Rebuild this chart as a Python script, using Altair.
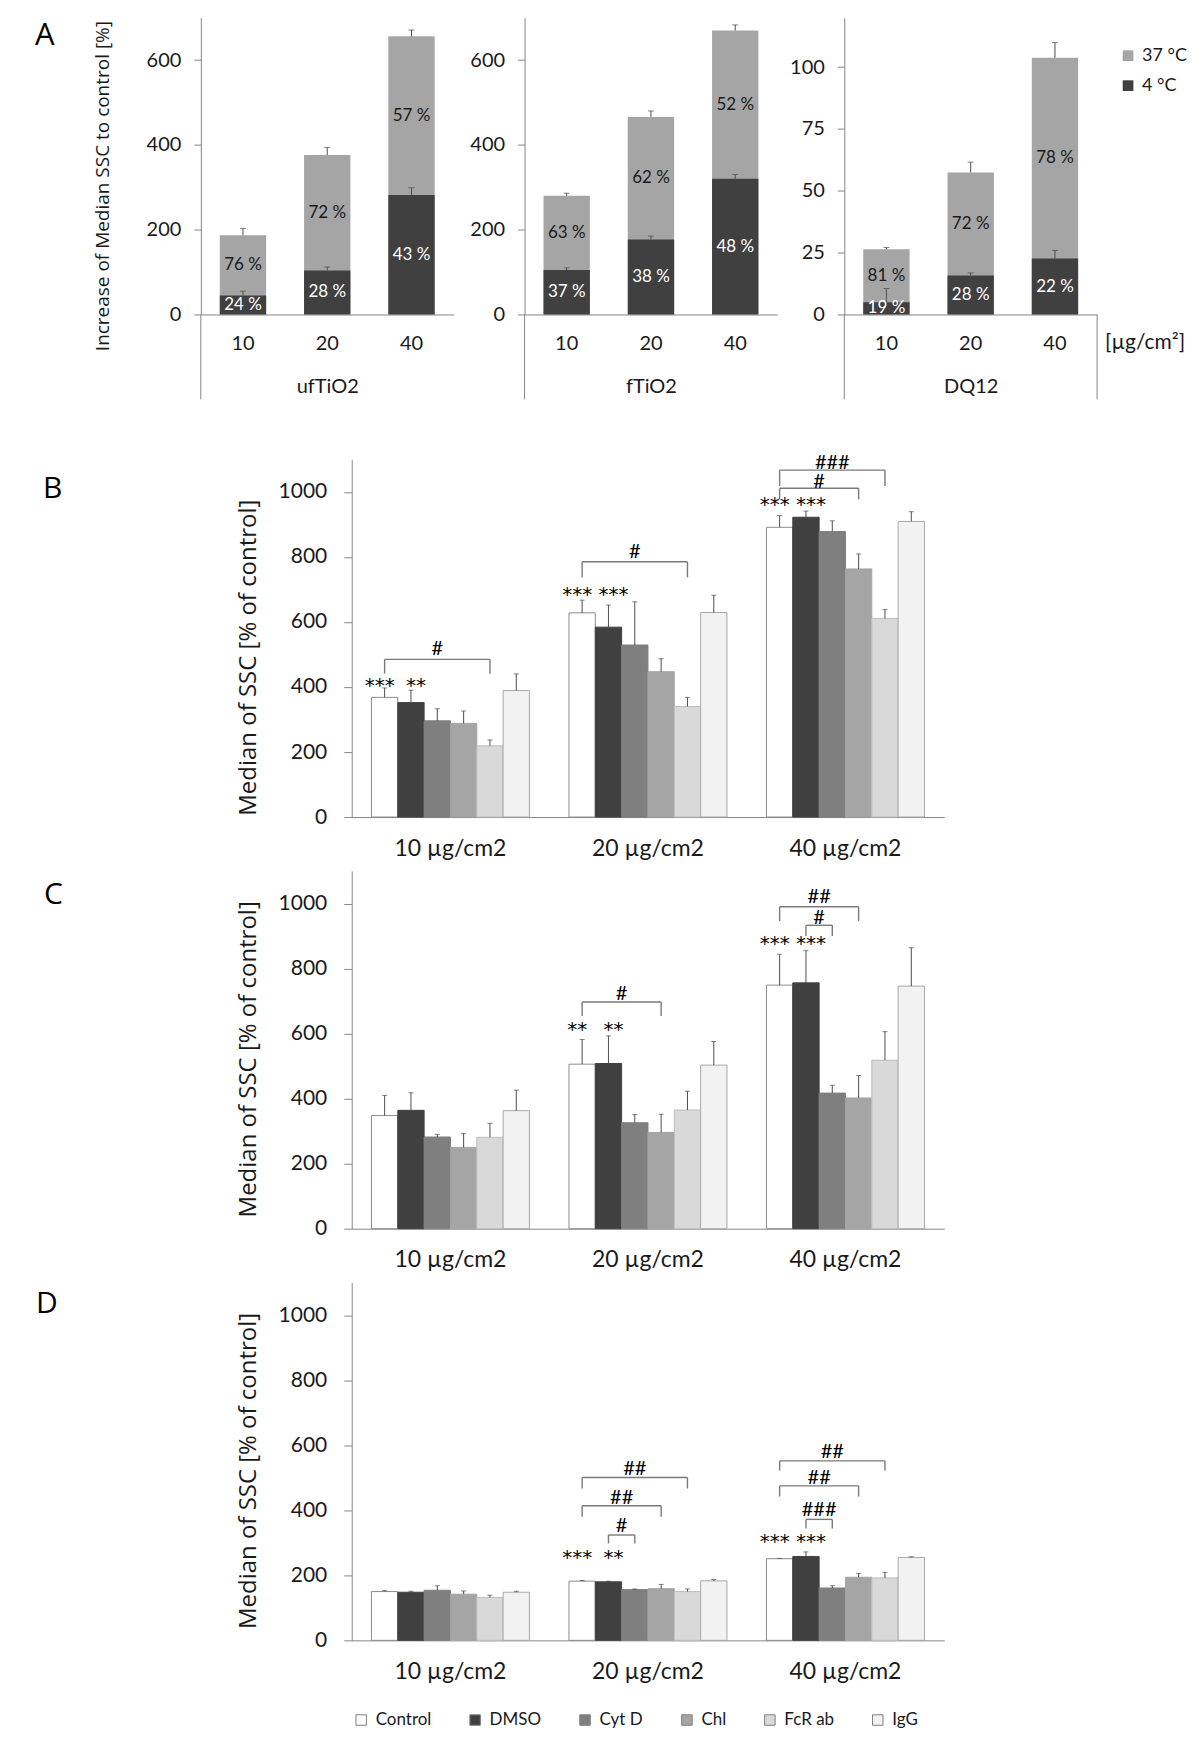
import altair as alt
import pandas as pd

FONT = "Lato"
TITLE_FONT = "Open Sans"
STAR_FONT = "DejaVu Sans"
TXT = "#1a1a1a"
AXIS_GREY = "#868686"
ERR = "#4d4d4d"

# ---------------- Panel A data ----------------
a_conc = ["10", "20", "40"]
a_temps = ["37 °C", "4 °C"]
a_colors = ["#a5a5a5", "#404040"]

uf_37 = [187, 376, 656]
uf_37_err = [203, 394, 671]
uf_4 = [45, 104, 282]
uf_4_err = [55, 112, 299]
uf_pct_37 = ["76 %", "72 %", "57 %"]
uf_pct_4 = ["24 %", "28 %", "43 %"]

f_37 = [280, 466, 670]
f_37_err = [286, 480, 683]
f_4 = [105, 177, 320]
f_4_err = [110, 185, 330]
f_pct_37 = ["63 %", "62 %", "52 %"]
f_pct_4 = ["37 %", "38 %", "48 %"]

dq_37 = [26.4, 57.4, 103.8]
dq_37_err = [27.1, 61.6, 110.0]
dq_4 = [4.9, 15.8, 22.6]
dq_4_err = [10.5, 16.8, 25.9]
dq_pct_37 = ["81 %", "72 %", "78 %"]
dq_pct_4 = ["19 %", "28 %", "22 %"]

# ---------------- Panels B-D data ----------------
groups = ["10 µg/cm2", "20 µg/cm2", "40 µg/cm2"]
treatments = ["Control", "DMSO", "Cyt D", "Chl", "FcR ab", "IgG"]
fills = ["#ffffff", "#404040", "#7f7f7f", "#a5a5a5", "#d9d9d9", "#f2f2f2"]
strokes = ["#8c8c8c", "#404040", "#7f7f7f", "#a5a5a5", "#bdbdbd", "#a8a8a8"]

b_vals = [[368, 352, 296, 288, 219, 389],
          [628, 584, 529, 447, 340, 629],
          [891, 922, 878, 763, 611, 909]]
b_errs = [[397, 390, 333, 326, 237, 440],
          [667, 652, 662, 487, 368, 682],
          [927, 941, 911, 809, 638, 939]]
c_vals = [[348, 364, 282, 250, 281, 363],
          [506, 508, 326, 296, 365, 503],
          [749, 756, 417, 402, 518, 746]]
c_errs = [[410, 418, 290, 293, 324, 426],
          [582, 593, 351, 352, 423, 576],
          [844, 855, 441, 471, 606, 864]]
d_vals = [[150, 148, 154, 142, 132, 148],
          [182, 180, 156, 159, 150, 183],
          [251, 258, 161, 194, 192, 255]]
d_errs = [[153, 151, 168, 152, 139, 151],
          [184, 182, 158, 172, 158, 187],
          [252, 272, 168, 206, 209, 257]]

# significance stars: (group index, treatment, text, y)
b_stars = [(0, "Control", "***", 402), (0, "DMSO", "**", 402),
           (1, "Control", "***", 684), (1, "DMSO", "***", 684),
           (2, "Control", "***", 960), (2, "DMSO", "***", 960)]
c_stars = [(1, "Control", "**", 611), (1, "DMSO", "**", 611),
           (2, "Control", "***", 877), (2, "DMSO", "***", 877)]
d_stars = [(1, "Control", "***", 252), (1, "DMSO", "**", 252),
           (2, "Control", "***", 303), (2, "DMSO", "***", 303)]

# brackets: (group index, from treatment index, to treatment index, level, leg end, label, label y)
b_brackets = [(0, 0, 4, 485, 441, "#", 518),
              (1, 0, 4, 785, 737, "#", 814),
              (2, 0, 3, 1011, 977, "#", 1030),
              (2, 0, 4, 1067, 1018, "###", 1088)]
c_brackets = [(1, 0, 3, 697, 654, "#", 722),
              (2, 1, 2, 933, 900, "#", 956),
              (2, 0, 3, 990, 946, "##", 1020)]
d_brackets = [(1, 1, 2, 324, 298, "#", 352),
              (1, 0, 3, 414, 380, "##", 438),
              (1, 0, 4, 501, 467, "##", 527),
              (2, 1, 2, 372, 344, "###", 402),
              (2, 0, 3, 475, 442, "##", 498),
              (2, 0, 4, 552, 522, "##", 579)]

# ---------------- layout constants (pixels) ----------------
A_H = 388      # view height of panel A row
A_PH = 297     # plot height of panel A
A_PW = 253     # plot width of one panel-A chart
A_X0 = [0, 324, 644]
P_X0 = 151
P_W = 744
P_H = 358


def text_chart(txt, x, y, size, font=TITLE_FONT):
    return alt.Chart(pd.DataFrame({"t": [txt]})).mark_text(
        font=font, fontSize=size, align="left", baseline="alphabetic", color="#000000"
    ).encode(x=alt.value(x), y=alt.value(y), text="t:N")


def a_panel(name, x0, v37, e37, v4, e4, p37, p4, ymax, yvals, first=False, last=False):
    bars = pd.DataFrame({
        "conc": a_conc * 2,
        "temp": [a_temps[0]] * 3 + [a_temps[1]] * 3,
        "value": v37 + v4,
        "err": e37 + e4,
        "mid": [(a + b) / 2 for a, b in zip(v37, v4)] + [b / 2 for b in v4],
        "label": p37 + p4,
    })
    x = alt.X("conc:N", sort=a_conc,
              scale=alt.Scale(domain=a_conc, range=[x0, x0 + A_PW], paddingInner=0.45, paddingOuter=0.225),
              axis=alt.Axis(title=name, orient="bottom", offset=A_PH - A_H, ticks=False, labelAngle=0,
                            labelPadding=19, labelFontSize=20, labelFont=FONT, labelColor=TXT,
                            titleFont=FONT, titleFontSize=20, titleFontWeight="normal", titleColor=TXT,
                            titlePadding=23, domainColor=AXIS_GREY))
    axis_kw = dict(orient="left", offset=-x0, values=yvals, grid=False, tickSize=7, tickColor=AXIS_GREY,
                   domainColor=AXIS_GREY, labelPadding=13, labelFontSize=20, labelFont=FONT, labelColor=TXT,
                   format="d")
    if first:
        axis_kw.update(title="Increase of Median SSC to control [%]", titleFont=TITLE_FONT, titleFontSize=19,
                       titleFontWeight="normal", titleColor=TXT, titleX=-88, titleY=168)
    else:
        axis_kw.update(title=None)
    yaxis = alt.Axis(**axis_kw)
    yscale = alt.Scale(domain=[0, ymax], range=[A_PH, 0], nice=False, zero=True)

    def Y(field, **kw):
        return alt.Y(field, type="quantitative", scale=yscale, axis=yaxis, **kw)

    base = alt.Chart(bars)
    bar = base.mark_bar().encode(
        x=x, y=Y("value", stack=None),
        color=alt.Color("temp:N", sort=a_temps, scale=alt.Scale(domain=a_temps, range=a_colors),
                        legend=alt.Legend(title=None, orient="none", legendX=919, legendY=29,
                                          symbolType="square", symbolSize=115, symbolStrokeWidth=0,
                                          labelFont=FONT, labelFontSize=18, labelColor=TXT,
                                          rowPadding=12, labelOffset=5, padding=0)),
    )
    err = base.mark_rule(color=ERR, strokeWidth=1).encode(x=x, y=Y("value", stack=None), y2="err")
    cap = base.mark_tick(color=ERR, size=6, thickness=1).encode(x=x, y=Y("err", stack=None))
    lab_hi = base.transform_filter(alt.datum.temp == a_temps[0]).mark_text(
        font=FONT, fontSize=17, color=TXT, baseline="middle").encode(x=x, y=Y("mid"), text="label:N")
    lab_lo = base.transform_filter(alt.datum.temp == a_temps[1]).mark_text(
        font=FONT, fontSize=17, color="#ffffff", baseline="middle").encode(x=x, y=Y("mid"), text="label:N")
    sep = alt.Chart(pd.DataFrame({"k": [0]})).mark_rule(color=AXIS_GREY, strokeWidth=1).encode(
        x=alt.value(x0), y=alt.value(A_PH), y2=alt.value(A_H - 6))
    layers = [bar, err, cap, lab_hi, lab_lo, sep]
    if first:
        layers.append(text_chart("A", -166, 27, 31))
    if last:
        layers.append(alt.Chart(pd.DataFrame({"k": [0]})).mark_rule(color=AXIS_GREY, strokeWidth=1).encode(
            x=alt.value(x0 + A_PW), y=alt.value(A_PH), y2=alt.value(A_H - 6)))
        layers.append(alt.Chart(pd.DataFrame({"t": ["[µg/cm²]"]})).mark_text(
            font=FONT, fontSize=21, align="left", baseline="middle", color=TXT
        ).encode(x=alt.value(x0 + A_PW + 8), y=alt.value(A_PH + 29), text="t:N"))
    return alt.layer(*layers)


panel_a = alt.layer(
    a_panel("ufTiO2", A_X0[0], uf_37, uf_37_err, uf_4, uf_4_err, uf_pct_37, uf_pct_4, 700, [0, 200, 400, 600], first=True),
    a_panel("fTiO2", A_X0[1], f_37, f_37_err, f_4, f_4_err, f_pct_37, f_pct_4, 700, [0, 200, 400, 600]),
    a_panel("DQ12", A_X0[2], dq_37, dq_37_err, dq_4, dq_4_err, dq_pct_37, dq_pct_4, 120, [0, 25, 50, 75, 100], last=True),
).resolve_scale(x="independent", y="independent").properties(width=900, height=A_H)


def bar_panel(letter, letter_x, letter_y, vals, errs, stars, brackets, ytitle, title_y, legend):
    rows = []
    for gi, g in enumerate(groups):
        for ti, t in enumerate(treatments):
            rows.append({"group": g, "treat": t, "value": vals[gi][ti], "err": errs[gi][ti]})
    df = pd.DataFrame(rows)

    x = alt.X("group:N", sort=groups,
              scale=alt.Scale(domain=groups, range=[P_X0, P_W], paddingInner=0.2, paddingOuter=0.1),
              axis=alt.Axis(title=None, ticks=False, labelAngle=0, labelPadding=20, labelFontSize=23,
                            labelFont=FONT, labelColor=TXT, domainColor=AXIS_GREY))
    xo = alt.XOffset("treat:N", sort=treatments,
                     scale=alt.Scale(domain=treatments, paddingInner=0, paddingOuter=0))
    yaxis = alt.Axis(orient="left", offset=-P_X0, values=[0, 200, 400, 600, 800, 1000], grid=False,
                     tickSize=8, tickColor=AXIS_GREY, domainColor=AXIS_GREY, labelPadding=17,
                     labelFontSize=21, labelFont=FONT, labelColor=TXT, format="d",
                     title=ytitle, titleFont=TITLE_FONT, titleFontSize=24, titleFontWeight="normal",
                     titleColor=TXT, titleX=-91, titleY=title_y)
    yscale = alt.Scale(domain=[0, 1100], nice=False)

    def Y(field, **kw):
        return alt.Y(field, type="quantitative", scale=yscale, axis=yaxis, **kw)

    base = alt.Chart(df)
    bars = base.mark_bar(stroke="#8c8c8c", strokeWidth=1).encode(
        x=x, xOffset=xo, y=Y("value", stack=None),
        color=alt.Color("treat:N", sort=treatments, scale=alt.Scale(domain=treatments, range=fills),
                        legend=legend),
        stroke=alt.Stroke("treat:N", sort=treatments, scale=alt.Scale(domain=treatments, range=strokes),
                          legend=None),
    )
    err = base.mark_rule(color=ERR, strokeWidth=1).encode(x=x, xOffset=xo, y=Y("value", stack=None), y2="err")
    cap = base.mark_tick(color=ERR, size=5, thickness=1).encode(x=x, xOffset=xo, y=Y("err", stack=None))

    sdf = pd.DataFrame([{"group": groups[g], "treat": t, "s": s, "sy": y} for g, t, s, y in stars])
    sbase = alt.Chart(sdf)
    star_l = sbase.transform_filter(alt.datum.treat == "Control").mark_text(
        font=STAR_FONT, fontSize=20, color="#000000", baseline="middle", dx=-5
    ).encode(x=x, xOffset=xo, y=Y("sy"), text="s:N")
    star_r = sbase.transform_filter(alt.datum.treat == "DMSO").mark_text(
        font=STAR_FONT, fontSize=20, color="#000000", baseline="middle", dx=5
    ).encode(x=x, xOffset=xo, y=Y("sy"), text="s:N")

    letter_mark = text_chart(letter, letter_x, letter_y, 30)
    main = alt.layer(bars, err, cap, star_l, star_r, letter_mark)

    # brackets on a numeric copy of the group axis (group centre = index)
    unit = 0.8 / len(treatments)
    bdf = pd.DataFrame([{
        "xa": g + (a - 2.5) * unit, "xb": g + (b - 2.5) * unit,
        "xm": g + ((a + b) / 2 - 2.5) * unit, "level": lv, "leg": lg, "lab": lab, "ly": ly}
        for g, a, b, lv, lg, lab, ly in brackets])
    legs = pd.DataFrame([{"xl": r[k], "level": r["level"], "leg": r["leg"]}
                         for _, r in bdf.iterrows() for k in ("xa", "xb")])
    xq = alt.Scale(domain=[-0.5, 2.5], range=[P_X0, P_W], nice=False, zero=False)
    hline = alt.Chart(bdf).mark_rule(color="#7a7a7a", strokeWidth=1.4).encode(
        x=alt.X("xa:Q", scale=xq, axis=None), x2="xb", y=Y("level"))
    vleg = alt.Chart(legs).mark_rule(color="#7a7a7a", strokeWidth=1.4).encode(
        x=alt.X("xl:Q", scale=xq, axis=None), y=Y("level"), y2="leg")
    blab = alt.Chart(bdf).mark_text(font=FONT, fontSize=20, color="#000000", baseline="middle").encode(
        x=alt.X("xm:Q", scale=xq, axis=None), y=Y("ly"), text="lab:N")
    brk = alt.layer(hline, vleg, blab)

    return alt.layer(main, brk).resolve_scale(x="independent").properties(width=P_W, height=P_H)


panel_b = bar_panel("B", -158, 39, b_vals, b_errs, b_stars, b_brackets,
                    "Median of SSC [% of control]", 198, None)
panel_c = bar_panel("C", -157, 33, c_vals, c_errs, c_stars, c_brackets,
                    "Median of SSC   [% of control]", 188, None)
panel_d = bar_panel("D", -165, 30, d_vals, d_errs, d_stars, d_brackets,
                    "Median of SSC   [% of control]", 188,
                    alt.Legend(title=None, orient="none", legendX=152, legendY=429, direction="horizontal",
                               symbolType="square", symbolSize=110, symbolStrokeColor="#7f7f7f",
                               symbolStrokeWidth=1, labelFont=FONT, labelFontSize=17, labelColor=TXT,
                               columnPadding=35, labelOffset=6, padding=0))

chart = alt.vconcat(panel_a, panel_b, panel_c, panel_d, spacing=54, bounds="flush").resolve_scale(
    color="independent"
).properties(
    padding={"left": 27, "top": 9, "right": 5, "bottom": 5}
).configure(font=FONT).configure_view(strokeWidth=0)

chart.save("out.html", embed_options={"renderer": "svg", "actions": False})
